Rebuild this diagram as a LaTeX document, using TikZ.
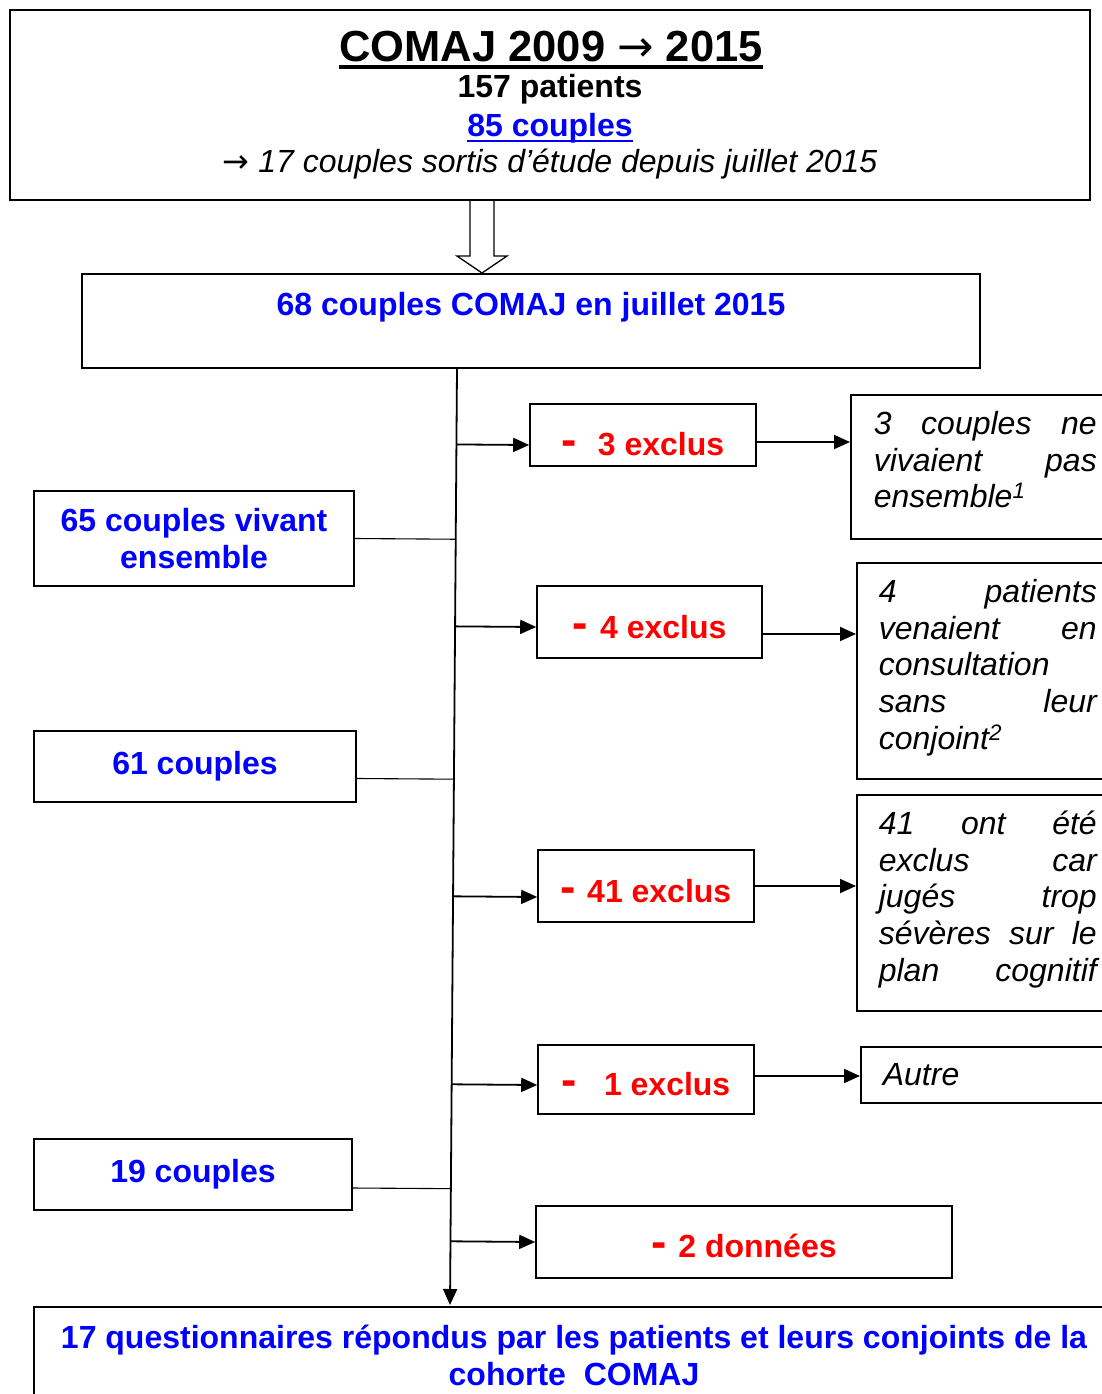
\documentclass[tikz,border=0pt]{standalone}
\usepackage{fontspec}
\setmainfont{Liberation Sans}
\newfontfamily\fleche{DejaVu Sans}
\usepackage{tikz}
\usetikzlibrary{arrows.meta, calc}

\newcommand{\tiret}{{\fontsize{46}{46}\selectfont -}}

\tikzset{
  box/.style={draw, line width=1.6pt, inner sep=0pt},
  arr/.style={-{Triangle[length=16pt, width=14pt]}, line width=1.8pt},
  fil/.style={line width=1.1pt},
  txt/.style={font=\fontsize{32}{36.8}\selectfont\bfseries},
  blu/.style={txt, text=blue},
  rouge/.style={txt, text=red, text height=33pt, text depth=1pt},
  why/.style={box, font=\fontsize{32}{36.8}\selectfont\itshape, align=left,
    inner xsep=22pt, text width=218pt, anchor=north west},
}

\begin{document}
\begin{tikzpicture}[x=1pt, y=-1pt]
    \useasboundingbox (0,0) rectangle (1102,1394);
    \clip (0,0) rectangle (1102,1394);

    \node[box, minimum width=1080, minimum height=190] (comaj) at (550,105) {};
    \node[font=\fontsize{43.5}{48}\selectfont\bfseries, anchor=base, inner sep=0pt] (titre) at (551,62) {COMAJ 2009 {\fleche\mdseries →} 2015};
    \draw[line width=3.5pt] ([yshift=-5pt]titre.base west) -- ([yshift=-5pt]titre.base east);
    \node[txt, anchor=base, inner sep=0pt] (patients) at (550,98) {157 patients};
    \node[blu, anchor=base, inner sep=0pt] (couples85) at (550,136) {85 couples};
    \draw[blue, line width=2.5pt] ([yshift=-5pt]couples85.base west) -- ([yshift=-5pt]couples85.base east);
    \node[font=\fontsize{32}{36.8}\selectfont\itshape, anchor=base, inner sep=0pt] (sortis) at (550,172) {{\fleche\upshape →} 17 couples sortis d'étude depuis juillet 2015};

    \node[box, blu, minimum width=898, minimum height=94, text height=22pt, text depth=34pt] (juillet) at (531,321) {68 couples COMAJ en juillet 2015};

    % hollow arrow
    \draw[line width=1.3pt, fill=white] (470,201) -- (470,256) -- (457,256) -- (482,273)
      -- (507,256) -- (494,256) -- (494,201);

    \coordinate (haut) at (457,368);
    \coordinate (bas) at (450,1305);
    \draw[arr] (haut) -- (bas);

    \node[box, blu, minimum width=320, minimum height=95, align=center] (vivant) at (194,538.5) {65 couples vivant\\ensemble};
    \node[box, blu, minimum width=322, minimum height=71] (c61) at (195,766.5) {61 couples};
    \node[box, blu, minimum width=318, minimum height=71] (c19) at (193,1174.5) {19 couples};

    \node[box, rouge, minimum width=226, minimum height=62, text height=41pt] (excl3) at (643,435) {\tiret\hspace{20.7pt}3 exclus};
    \node[box, rouge, minimum width=225, minimum height=72] (excl4) at (649.5,622) {\tiret\hspace{12.2pt}4 exclus};
    \node[box, rouge, minimum width=216, minimum height=72] (excl41) at (646,886) {\tiret\hspace{11.2pt}41 exclus};
    \node[box, rouge, minimum width=216, minimum height=69, text height=32pt] (excl1) at (646,1079.5) {\tiret\hspace{27pt}1 exclus};
    \node[box, rouge, minimum width=416, minimum height=72, text height=31pt] (donnees) at (744,1242) {\tiret\hspace{11.7pt}2 données};

    \node[why, text width=223pt, inner xsep=23pt, text height=9pt, minimum height=144] (why3) at (850,394)
      {3\hfill couples\hfill ne\\vivaient\hfill pas\\ensemble\textsuperscript{1}};
    \node[why, text height=17pt, minimum height=216] (why4) at (856,562)
      {4\hfill patients\\venaient\hfill en\\consultation\\sans\hfill leur\\conjoint\textsuperscript{2}};
    \node[why, text height=17pt, minimum height=216] (why41) at (856,794)
      {41\hfill ont\hfill été\\exclus\hfill car\\jugés\hfill trop\\sévères\hfill sur\hfill le\\plan\hfill cognitif};
    \node[why, minimum height=56] (autre) at (860,1046) {Autre};

    \node[box, blu, anchor=north, minimum width=1080, minimum height=97, align=center] (fin) at (574,1306)
      {17 questionnaires répondus par les patients et leurs conjoints de la\\cohorte\ \ COMAJ};

    % left boxes to the trunk
    \coordinate (g65) at (vivant.east);
    \coordinate (g61) at ([yshift=-12pt]c61.east);
    \coordinate (g19) at ([yshift=-13.5pt]c19.east);
    \foreach \g in {g65, g61, g19}
      \draw[fil] (\g) -- ($(haut)!(\g)!(bas)$);

    % trunk to the exclusions
    \coordinate (e3) at ([yshift=-10pt]excl3.west);
    \coordinate (e4) at ([yshift=-5pt]excl4.west);
    \coordinate (e41) at ([yshift=-11pt]excl41.west);
    \coordinate (e1) at ([yshift=-5.5pt]excl1.west);
    \coordinate (e2) at (donnees.west);
    \foreach \e in {e3, e4, e41, e1, e2}
      \draw[arr] ($(haut)!(\e)!(bas)$) -- (\e);

    % exclusions to the reasons
    \coordinate (s3) at ([yshift=-7pt]excl3.east);
    \coordinate (s4) at ([yshift=-12pt]excl4.east);
    \coordinate (s41) at (excl41.east);
    \coordinate (s1) at ([yshift=3.5pt]excl1.east);
    \draw[arr] (s3) -- (s3 -| why3.west);
    \draw[arr] (s4) -- (s4 -| why4.west);
    \draw[arr] (s41) -- (s41 -| why41.west);
    \draw[arr] (s1) -- (s1 -| autre.west);
\end{tikzpicture}
\end{document}
